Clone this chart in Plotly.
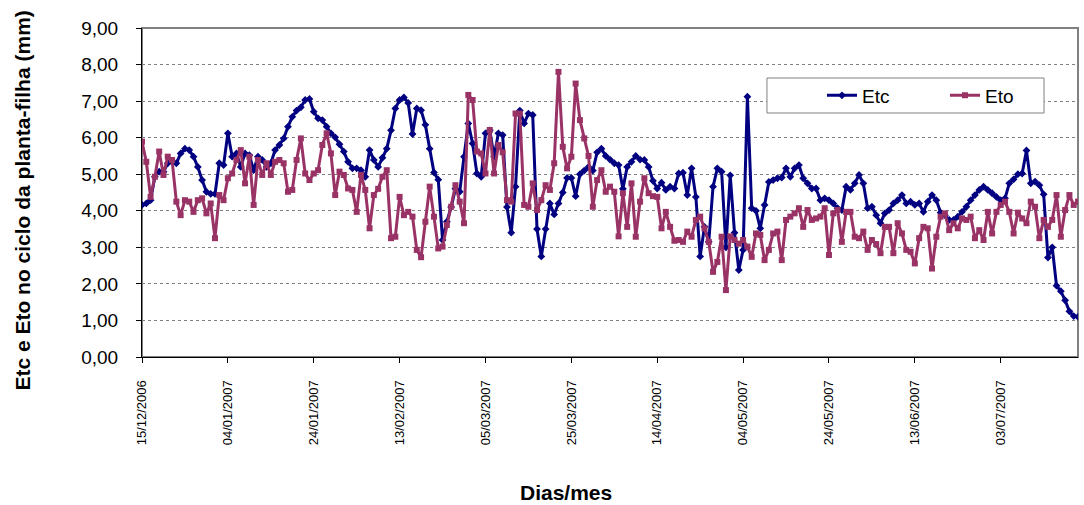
import pandas as pd
import plotly.graph_objects as go

# daily values, 15/12/2006 .. 21/07/2007
start_day = "2006-12-15"

etc = [4.16, 4.20, 4.29, 4.93, 5.07, 5.07, 5.30, 5.34, 5.30, 5.57,
       5.70, 5.66, 5.48, 5.20, 4.84, 4.52, 4.46, 4.46, 5.30, 5.25,
       6.12, 5.48, 5.57, 5.20, 5.57, 5.52, 5.11, 5.48, 5.39, 5.20,
       5.30, 5.66, 5.80, 5.98, 6.30, 6.57, 6.74, 6.83, 7.03, 7.06,
       6.71, 6.53, 6.48, 6.30, 6.12, 6.01, 5.82, 5.62, 5.34, 5.16,
       5.16, 5.11, 4.93, 5.66, 5.39, 5.20, 5.45, 5.70, 6.20, 6.80,
       7.03, 7.10, 6.95, 6.10, 6.80, 6.75, 6.35, 5.70, 5.05, 4.85,
       3.20, 3.70, 4.10, 4.60, 4.52, 5.48, 6.39, 5.84, 5.02, 4.93,
       6.12, 6.20, 5.48, 6.12, 6.07, 4.10, 3.40, 4.66, 6.74, 6.39,
       6.66, 6.62, 3.50, 2.75, 3.50, 4.20, 3.90, 4.20, 4.50, 4.90,
       4.90, 4.40, 5.00, 5.10, 5.20, 5.10, 5.60, 5.70, 5.50, 5.40,
       5.30, 5.25, 4.60, 5.20, 5.34, 5.50, 5.40, 5.39, 5.20, 4.82,
       4.61, 4.77, 4.57, 4.66, 4.61, 5.02, 5.04, 4.43, 5.16, 4.38,
       2.75, 3.56, 3.15, 4.66, 5.16, 5.07, 3.00, 4.97, 3.40, 2.38,
       2.93, 7.12, 4.07, 4.00, 3.52, 4.16, 4.79, 4.84, 4.89, 4.91,
       5.16, 4.93, 5.16, 5.25, 4.89, 4.75, 4.61, 4.61, 4.29, 4.34,
       4.29, 4.20, 4.07, 4.02, 4.66, 4.57, 4.75, 4.98, 4.75, 4.07,
       4.11, 3.88, 3.66, 3.93, 4.02, 4.20, 4.29, 4.43, 4.20, 4.25,
       4.16, 4.20, 3.97, 4.25, 4.43, 4.29, 3.95, 3.88, 3.75, 3.75,
       3.84, 3.97, 4.11, 4.29, 4.43, 4.57, 4.66, 4.57, 4.48, 4.38,
       4.29, 4.34, 4.75, 4.86, 5.00, 5.02, 5.65, 4.75, 4.80, 4.70,
       4.45, 2.72, 3.00, 1.95, 1.80, 1.55, 1.25, 1.12, 1.10]

eto = [5.89, 5.34, 4.38, 4.93, 5.62, 4.98, 5.48, 5.39, 4.25, 3.88,
       4.29, 4.25, 3.97, 4.29, 4.34, 3.93, 4.20, 3.25, 4.43, 4.29,
       4.89, 5.02, 5.39, 5.66, 4.75, 5.48, 4.16, 5.39, 4.98, 5.30,
       4.98, 5.34, 5.39, 5.30, 4.52, 4.57, 5.39, 5.98, 5.02, 4.84,
       5.02, 5.11, 5.80, 6.12, 5.57, 4.43, 5.07, 4.98, 4.61, 4.57,
       3.97, 4.98, 4.57, 3.52, 4.43, 4.60, 4.93, 5.11, 3.25, 3.29,
       4.38, 3.88, 3.97, 3.84, 2.93, 2.73, 3.70, 4.66, 3.84, 2.97,
       3.02, 3.61, 4.11, 4.70, 4.25, 3.66, 7.17, 7.03, 5.62, 5.57,
       5.02, 6.21, 5.02, 5.80, 5.60, 4.29, 4.25, 6.66, 6.66, 4.16,
       4.11, 4.75, 4.02, 4.29, 4.70, 4.57, 5.30, 7.80, 5.75, 5.16,
       5.48, 7.48, 6.48, 5.98, 5.50, 4.11, 4.84, 5.11, 4.52, 4.66,
       4.52, 3.30, 4.48, 3.56, 4.75, 3.29, 4.25, 4.89, 4.48, 4.40,
       4.38, 3.52, 3.97, 3.56, 3.18, 3.20, 3.15, 3.43, 3.29, 3.75,
       3.84, 3.52, 3.15, 2.33, 2.60, 3.29, 1.83, 3.30, 3.20, 3.10,
       3.20, 3.02, 2.74, 3.38, 3.34, 2.65, 2.93, 3.38, 3.43, 2.65,
       3.75, 3.84, 3.93, 4.07, 3.56, 4.02, 3.75, 3.79, 3.84, 4.07,
       2.79, 3.93, 4.02, 3.15, 3.97, 3.97, 3.29, 3.25, 3.43, 2.93,
       3.20, 3.09, 2.84, 3.56, 3.56, 2.84, 3.66, 3.38, 2.93, 2.88,
       2.56, 3.25, 3.56, 3.52, 2.42, 3.29, 3.84, 3.93, 3.47, 3.66,
       3.52, 3.79, 3.75, 3.84, 3.25, 3.47, 3.20, 3.97, 3.38, 3.97,
       4.16, 4.25, 3.97, 3.38, 3.95, 3.79, 3.66, 4.25, 4.11, 3.25,
       3.75, 3.56, 3.75, 4.43, 3.29, 4.02, 4.43, 4.16, 4.25]

dias = pd.date_range(start=start_day, periods=len(etc), freq="D")

fnt = "Arial, Liberation Sans, sans-serif"

fig = go.Figure()
fig.add_trace(go.Scatter(
    x=dias, y=etc, name="Etc", mode="lines+markers",
    line=dict(color="#000080", width=3),
    marker=dict(symbol="diamond", size=6, color="#000080"),
))
fig.add_trace(go.Scatter(
    x=dias, y=eto, name="Eto", mode="lines+markers",
    line=dict(color="#993366", width=3),
    marker=dict(symbol="square", size=6, color="#993366"),
))

# grey frame round the plot area (top / right), axis lines drawn on top
fig.add_shape(type="rect", xref="paper", yref="paper", x0=0, x1=1, y0=0, y1=1,
              line=dict(color="#808080", width=2), layer="below")
# legend box (white, hides the grid behind it)
fig.add_shape(type="rect", xref="paper", yref="paper",
              x0=0.6677, x1=0.9637, y0=0.7416, y1=0.848,
              line=dict(color="#808080", width=1), fillcolor="white", layer="above")

fig.update_layout(
    width=1084, height=505,
    margin=dict(l=142, r=6, t=28, b=148),
    paper_bgcolor="white", plot_bgcolor="white",
    font=dict(family=fnt, color="black"),
    showlegend=True,
    legend=dict(orientation="h", x=0.7265, y=0.7948, xanchor="left", yanchor="middle",
                bgcolor="rgba(0,0,0,0)", borderwidth=0,
                font=dict(size=19), entrywidth=78),
    xaxis=dict(
        type="date", range=[dias[0], dias[-1]],
        tick0=start_day, dtick=20 * 86400000, tickformat="%d/%m/%Y",
        tickangle=-90, tickfont=dict(size=13),
        ticks="outside", ticklen=5, tickcolor="black",
        ticklabelstandoff=12,
        showline=True, linecolor="black", linewidth=1,
        showgrid=False, zeroline=False,
    ),
    yaxis=dict(
        range=[0, 9], dtick=1, tickformat=".2f",
        tickfont=dict(size=19),
        ticks="outside", ticklen=5, tickcolor="black",
        ticklabelstandoff=14,
        showline=True, linecolor="black", linewidth=1,
        showgrid=True, gridcolor="#808080", griddash="dot", gridwidth=1,
        zeroline=False,
    ),
    separators=",.",
    annotations=[
        dict(text="<b>Etc e Eto no ciclo da planta-filha (mm)</b>", textangle=-90,
             xref="paper", yref="paper", x=-0.128, y=0.476,
             xanchor="center", yanchor="middle", showarrow=False,
             font=dict(size=21)),
        dict(text="<b>Dias/mes</b>", xref="paper", yref="paper",
             x=0.453, y=-0.413, xanchor="center", yanchor="middle",
             showarrow=False, font=dict(size=21)),
    ],
)

# page without body margin so the 1084x505 figure fills the window
fix_page = ("document.body.style.margin='0';"
            "document.body.style.overflow='hidden';"
            "var gd=document.getElementById('{plot_id}');"
            "Plotly.relayout(gd,{width:1084,height:505});")

fig.write_html("out.html", post_script=fix_page,
               config={"displayModeBar": False})
